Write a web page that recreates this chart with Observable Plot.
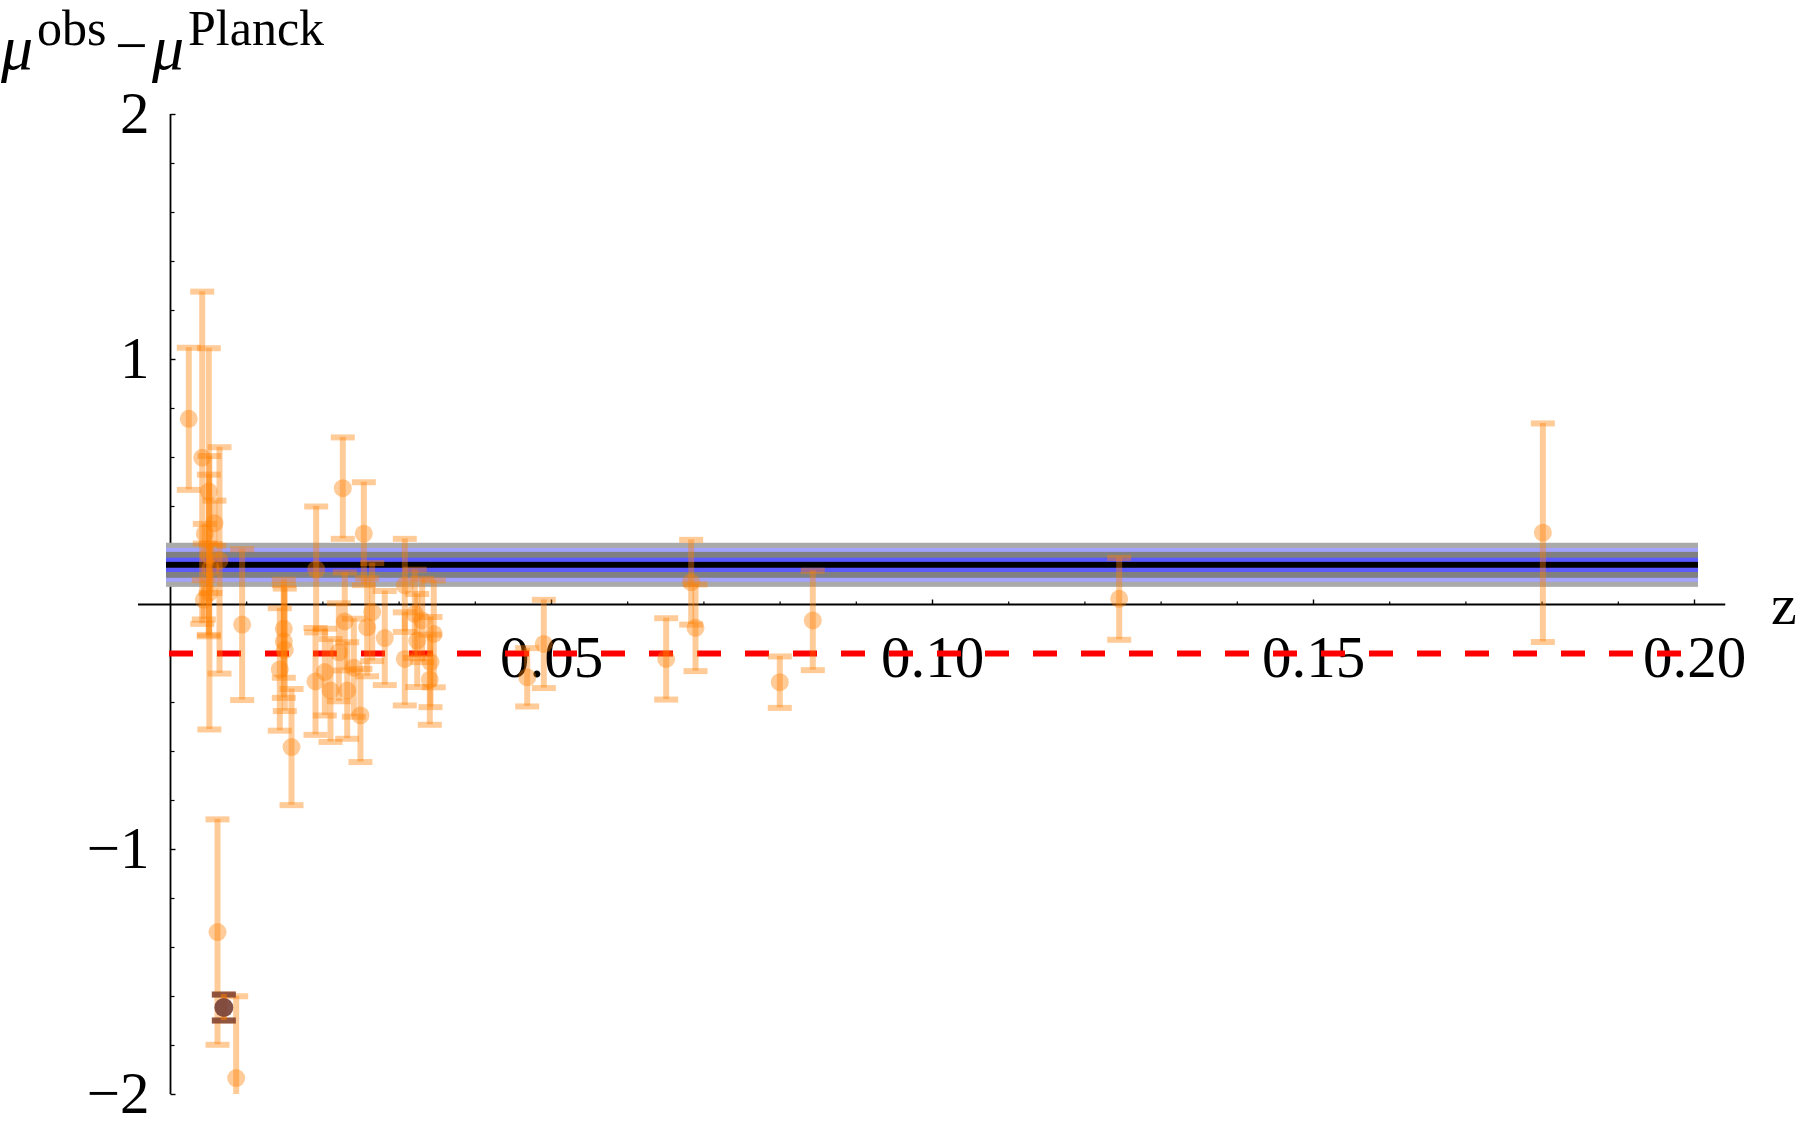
<!DOCTYPE html>
<html>
<head>
<meta charset="utf-8">
<script src="https://cdn.jsdelivr.net/npm/d3@7"></script>
<script src="https://cdn.jsdelivr.net/npm/@observablehq/plot@0.6"></script>
<style>
html, body { margin: 0; padding: 0; background: #ffffff; }
#chart { position: relative; width: 1800px; height: 1131px; }
</style>
</head>
<body>
<div id="chart"></div>
<script>
// ---------------- data ----------------
const zObs = [0.0024, 0.00416, 0.00503, 0.00577, 0.0045, 0.00503, 0.00643, 0.00525, 0.0051, 0.00437,
  0.00617, 0.00862, 0.0070,
  0.0094, 0.01487, 0.01487, 0.0150, 0.01434, 0.01588,
  0.02261, 0.02537, 0.01912, 0.02647, 0.02581, 0.02812, 0.02287, 0.02406, 0.02209, 0.02025,
  0.01903, 0.021, 0.02319, 0.02493, 0.03075, 0.03075, 0.03206, 0.03303, 0.03238, 0.03455,
  0.03412, 0.03403, 0.04681, 0.04899, 0.06505, 0.06833, 0.0689, 0.07996, 0.08429, 0.1245, 0.1801];
const muDiff = [0.758, 0.599, 0.461, 0.332, 0.289, 0.2, 0.18, 0.147, 0.048, 0.019,
  -1.337, -1.933, -1.645,
  -0.082, -0.099, -0.151, -0.185, -0.265, -0.582,
  0.475, 0.289, 0.143, -0.031, -0.093, -0.137, -0.069, -0.258, -0.195, -0.276,
  -0.314, -0.351, -0.351, -0.453, 0.078, -0.222, -0.038, -0.065, -0.147, -0.12,
  -0.235, -0.307, -0.297, -0.161, -0.222, 0.091, -0.095, -0.317, -0.065, 0.023, 0.293];
const muErr = [0.29, 0.678, 0.585, 0.092, 0.04, 0.33, 0.462, 0.1, 0.558, 0.08,
  0.46, 0.334, 0.053,
  0.308, 0.2, 0.23, 0.25, 0.25, 0.237,
  0.207, 0.21, 0.257, 0.2, 0.2, 0.192, 0.2, 0.2, 0.2, 0.177,
  0.218, 0.21, 0.197, 0.19, 0.19, 0.19, 0.18, 0.17, 0.19, 0.218,
  0.184, 0.184, 0.119, 0.18, 0.166, 0.173, 0.177, 0.105, 0.203, 0.167, 0.446];

// highlighted object
const specialZ = [0.0070];
const specialMu = [-1.645];
const specialErr = [0.053];

// best-fit offset and its bands
const bandCenter = 0.16;
const bandHalfWidths = [0.09, 0.069, 0.053, 0.029, 0.012];
const bandRange = [0, 0.2];

// dashed reference level
const referenceLevel = -0.2;
const referenceRange = [0, 0.2];

// axes
const xAxisRange = [-0.0042, 0.2041];
const yAxisRange = [-2, 2];
const xTickValues = [0.05, 0.10, 0.15, 0.20];
const xTickLabels = ["0.05", "0.10", "0.15", "0.20"];
const xMinorTicks = [0.01, 0.02, 0.03, 0.04, 0.06, 0.07, 0.08, 0.09, 0.11, 0.12, 0.13, 0.14, 0.16, 0.17, 0.18, 0.19];
const yTickValues = [-2, -1, 1, 2];
const yTickLabels = ["\u22122", "\u22121", "1", "2"];
const yMinorTicks = [-1.8, -1.6, -1.4, -1.2, -0.8, -0.6, -0.4, -0.2, 0.2, 0.4, 0.6, 0.8, 1.2, 1.4, 1.6, 1.8];

// ---------------- build tables ----------------
const points = zObs.map((z, i) => ({z, v: muDiff[i], e: muErr[i]}));
const special = specialZ.map((z, i) => ({z, v: specialMu[i], e: specialErr[i]}));
const xTicks = xTickValues.map((t, i) => ({t, label: xTickLabels[i]}));
const yTicks = yTickValues.map((t, i) => ({t, label: yTickLabels[i]}));

const SERIF = "Liberation Serif, Times New Roman, serif";
const ORANGE = "rgb(255,128,0)";
const bandColors = ["#aaaaaa", "#a2a2ff", "#808080", "#5a5aff", "#000000"];

// custom symbols
const capSymbol = {draw(ctx) { ctx.rect(-12, -3, 24, 6); }};
const tickUp = (len) => ({draw(ctx) { ctx.moveTo(0, 0); ctx.lineTo(0, -len); }});
const tickRight = (len) => ({draw(ctx) { ctx.moveTo(0, 0); ctx.lineTo(len, 0); }});

const bandMarks = bandHalfWidths.map((h, i) =>
  Plot.rect([{z1: bandRange[0], z2: bandRange[1], lo: bandCenter - h, hi: bandCenter + h}], {
    x1: "z1", x2: "z2", y1: "lo", y2: "hi", fill: bandColors[i], insetLeft: -4, insetRight: -4
  })
);

const svg = Plot.plot({
  width: 1800,
  height: 1131,
  marginLeft: 170,
  marginRight: 106,
  marginTop: 114,
  marginBottom: 37,
  style: {background: "#ffffff", overflow: "visible"},
  x: {domain: [0, 0.2], axis: null},
  y: {domain: [-2, 2], axis: null},
  marks: [
    // axes lines
    Plot.ruleY([0], {x1: xAxisRange[0], x2: xAxisRange[1], stroke: "black", strokeWidth: 1.8}),
    Plot.ruleX([0], {y1: yAxisRange[0], y2: yAxisRange[1], stroke: "black", strokeWidth: 1.8}),
    // ticks
    Plot.dot(xTickValues, {x: d => d, y: 0, symbol: tickUp(5), fill: "none", stroke: "black", strokeWidth: 1.4}),
    Plot.dot(xMinorTicks, {x: d => d, y: 0, symbol: tickUp(3), fill: "none", stroke: "black", strokeWidth: 1.2}),
    Plot.dot(yTickValues, {x: 0, y: d => d, symbol: tickRight(5), fill: "none", stroke: "black", strokeWidth: 1.4}),
    Plot.dot(yMinorTicks, {x: 0, y: d => d, symbol: tickRight(4), fill: "none", stroke: "black", strokeWidth: 1.2}),
    // tick labels
    Plot.text(xTicks, {x: "t", y: 0, text: "label", lineAnchor: "top", dy: 31, fontSize: 59, fontFamily: SERIF, fill: "black"}),
    Plot.text(yTicks, {x: 0, y: "t", text: "label", textAnchor: "end", dx: -21, fontSize: 59, fontFamily: SERIF, fill: "black"}),
    // bands
    ...bandMarks,
    // dashed reference line
    Plot.ruleY([referenceLevel], {x1: referenceRange[0], x2: referenceRange[1], stroke: "#ff0000", strokeWidth: 6, strokeDasharray: "24,24", insetLeft: -1}),
    // error bars
    Plot.ruleX(points, {x: "z", y1: d => d.v - d.e, y2: d => d.v + d.e, stroke: ORANGE, strokeOpacity: 0.4, strokeWidth: 6, clip: true}),
    Plot.dot(points, {x: "z", y: d => d.v + d.e, symbol: capSymbol, fill: ORANGE, fillOpacity: 0.4, stroke: "none", clip: true}),
    Plot.dot(points, {x: "z", y: d => d.v - d.e, symbol: capSymbol, fill: ORANGE, fillOpacity: 0.4, stroke: "none", clip: true}),
    Plot.dot(points, {x: "z", y: "v", r: 9, fill: ORANGE, fillOpacity: 0.4, stroke: "none"}),
    // highlighted object
    Plot.dot(special, {x: "z", y: d => d.v + d.e, symbol: capSymbol, fill: "rgb(125,65,50)", fillOpacity: 0.85, stroke: "none"}),
    Plot.dot(special, {x: "z", y: d => d.v - d.e, symbol: capSymbol, fill: "rgb(125,65,50)", fillOpacity: 0.85, stroke: "none"}),
    Plot.ruleX(special, {x: "z", y1: d => d.v - d.e, y2: d => d.v + d.e, stroke: ORANGE, strokeOpacity: 0.5, strokeWidth: 6}),
    Plot.dot(special, {x: "z", y: "v", r: 9.5, fill: "rgb(118,68,62)", fillOpacity: 0.9, stroke: "none"})
  ]
});

// axis titles (Mathematica style)
const g = d3.select(svg).append("g")
  .attr("font-family", SERIF)
  .attr("fill", "black")
  .attr("text-anchor", "start");
g.append("text").attr("x", 1).attr("y", 69).attr("font-size", 64).attr("font-style", "italic").text("\u03bc");
g.append("text").attr("x", 37).attr("y", 45).attr("font-size", 50).text("obs");
g.append("text").attr("x", 115).attr("y", 65).attr("font-size", 58).text("\u2212");
g.append("text").attr("x", 152).attr("y", 69).attr("font-size", 64).attr("font-style", "italic").text("\u03bc");
g.append("text").attr("x", 188).attr("y", 45).attr("font-size", 50).text("Planck");
g.append("text").attr("x", 1771).attr("y", 624).attr("font-size", 58).text("z");

document.getElementById("chart").appendChild(svg);
</script>
</body>
</html>
